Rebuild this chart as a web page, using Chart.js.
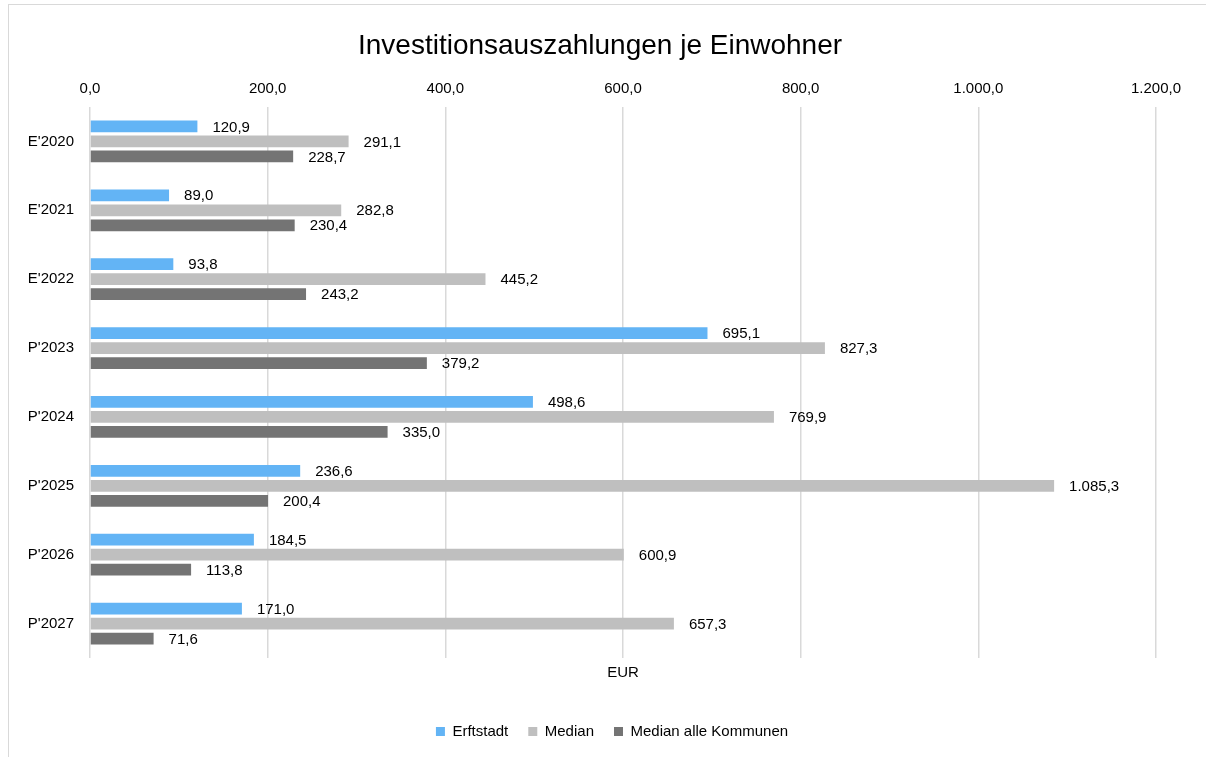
<!DOCTYPE html>
<html>
<head>
<meta charset="utf-8">
<script src="https://cdn.jsdelivr.net/npm/chart.js@4.4.0/dist/chart.umd.min.js"></script>
<style>
    body { margin:0; background:#fff; }
    #wrap { position:relative; width:1206px; height:757px; overflow:hidden; }
    #frame { position:absolute; left:8px; top:4px; width:1300px; height:900px; border:1px solid #d9d9d9; }
    #chart { position:absolute; left:0; top:0; }
</style>
</head>
<body>
<div id="wrap">
    <div id="frame"></div>
    <canvas id="chart" width="1206" height="757"></canvas>
</div>
<script>
// Kategorien und Werte (EUR je Einwohner)
const labels = ["E'2020", "E'2021", "E'2022", "P'2023", "P'2024", "P'2025", "P'2026", "P'2027"];
const erftstadt = [120.9, 89.0, 93.8, 695.1, 498.6, 236.6, 184.5, 171.0];
const median = [291.1, 282.8, 445.2, 827.3, 769.9, 1085.3, 600.9, 657.3];
const medianAlle = [228.7, 230.4, 243.2, 379.2, 335.0, 200.4, 113.8, 71.6];
const xTicks = [0, 200, 400, 600, 800, 1000, 1200];
const titel = "Investitionsauszahlungen je Einwohner";

const FONT = "'Liberation Sans', Arial, sans-serif";

// Zahl im deutschen Format, eine Nachkommastelle
function fmt(v){
    let s = v.toFixed(1).split(".");
    let intPart = s[0].replace(/\B(?=(\d{3})+(?!\d))/g, ".");
    return intPart + "," + s[1];
}

// Werte rechts neben die Balken schreiben
const barLabels = {
    id:"barLabels",
    afterDatasetsDraw(chart){
        let ctx = chart.ctx;
        ctx.save();
        ctx.font = "15px " + FONT;
        ctx.fillStyle = "#000";
        ctx.textBaseline = "middle";
        ctx.textAlign = "left";
        chart.data.datasets.forEach(function(ds, i){
            let meta = chart.getDatasetMeta(i);
            meta.data.forEach(function(bar, j){
                ctx.fillText(fmt(ds.data[j]), bar.x + 15, bar.y + 1);
            });
        });
        ctx.restore();
    }
};

// Titel etwas links von der Mitte, wie im Original
const titlePlugin = {
    id:"titlePlugin",
    afterDraw(chart){
        let ctx = chart.ctx;
        ctx.save();
        ctx.font = "28px " + FONT;
        ctx.fillStyle = "#000";
        ctx.textAlign = "center";
        ctx.textBaseline = "middle";
        ctx.fillText(titel, 600, 46);
        ctx.restore();
    }
};

let ctx = document.getElementById("chart");
let chart = new Chart(ctx, {
    type:"bar",
    data:{
        labels:labels,
        datasets:[
            { label:"Erftstadt", data:erftstadt, backgroundColor:"#63b4f5" },
            { label:"Median", data:median, backgroundColor:"#bfbfbf" },
            { label:"Median alle Kommunen", data:medianAlle, backgroundColor:"#747474" }
        ]
    },
    options:{
        indexAxis:"y",
        responsive:false,
        animation:false,
        devicePixelRatio:1,
        categoryPercentage:0.655,
        barPercentage:0.78,
        layout:{ padding:{ left:18, right:0, top:71, bottom:8 } },
        plugins:{
            title:{ display:false },
            legend:{
                position:"bottom",
                labels:{
                    color:"#000",
                    font:{ family:FONT, size:15 },
                    boxWidth:9,
                    boxHeight:9,
                    padding:20
                }
            },
            tooltip:{ enabled:false }
        },
        scales:{
            x:{
                position:"top",
                min:0,
                max:1200,
                afterBuildTicks:function(axis){
                    axis.ticks = xTicks.map(function(v){ return { value:v }; });
                },
                ticks:{
                    color:"#000",
                    font:{ family:FONT, size:15 },
                    padding:9,
                    callback:function(v){ return fmt(v); }
                },
                grid:{ color:"#d9d9d9", lineWidth:1.5, drawTicks:false },
                border:{ display:false }
            },
            x2:{
                position:"bottom",
                axis:"x",
                min:0,
                max:1200,
                ticks:{ display:false },
                grid:{ display:false, drawTicks:false },
                border:{ display:false },
                title:{
                    display:true,
                    text:"EUR",
                    color:"#000",
                    font:{ family:FONT, size:15 },
                    padding:{ top:6, bottom:22 }
                }
            },
            y:{
                ticks:{
                    color:"#000",
                    font:{ family:FONT, size:15 },
                    padding:16
                },
                grid:{ display:false, drawTicks:false },
                border:{ display:false },
                afterFit:function(axis){ axis.width = 72; }
            },
            y2:{
                position:"right",
                axis:"y",
                type:"linear",
                ticks:{ display:false },
                grid:{ display:false, drawTicks:false },
                border:{ display:false },
                afterFit:function(axis){ axis.width = 50; }
            }
        }
    },
    plugins:[barLabels, titlePlugin]
});
</script>
</body>
</html>
